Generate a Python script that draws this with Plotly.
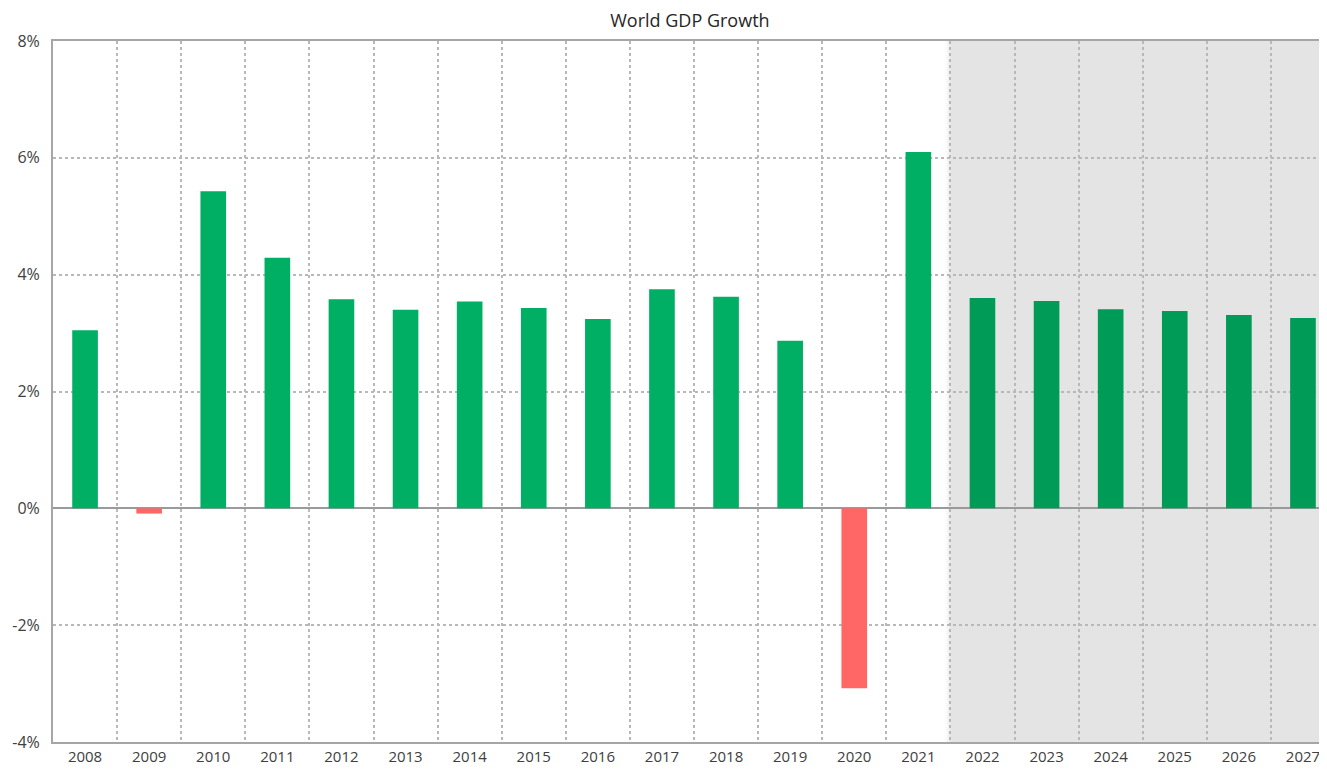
import plotly.graph_objects as go

years = [str(y) for y in range(2008, 2028)]
growth = [3.05, -0.09, 5.43, 4.29, 3.58, 3.40, 3.54, 3.43, 3.24, 3.75,
          3.62, 2.87, -3.08, 6.10, 3.60, 3.55, 3.41, 3.38, 3.31, 3.26]
forecast_start = "2022"
y_ticks = [-4, -2, 0, 2, 4, 6, 8]
y_labels = [f"{v}%" for v in y_ticks]

POS = "#00AF64"
POS_F = "#009B57"
NEG = "#FF6666"

fi = years.index(forecast_start)
colors = []
for i, v in enumerate(growth):
    if v < 0:
        colors.append(NEG)
    elif i >= fi:
        colors.append(POS_F)
    else:
        colors.append(POS)

fig = go.Figure()
fig.add_trace(go.Bar(
    x=list(range(len(years))), y=growth, width=0.4,
    marker=dict(color=colors, line=dict(width=0)),
    hovertemplate="%{y:.2f}%<extra></extra>",
))

# forecast shading with soft shadow edge
fig.add_shape(type="rect", xref="x", yref="paper", x0=fi - 0.5, x1=len(years) - 0.5,
              y0=0, y1=1, fillcolor="#E4E4E4", line=dict(width=0), layer="below")
for k, op in enumerate([0.10, 0.07, 0.04]):
    fig.add_shape(type="rect", xref="x", yref="paper",
                  x0=fi - 0.5 - (k + 1) * 0.03, x1=fi - 0.5, y0=0, y1=1,
                  fillcolor=f"rgba(0,0,0,{op/3})", line=dict(width=0), layer="below")

fig.update_layout(
    width=1319, height=764,
    margin=dict(l=45, r=0, t=33, b=30, autoexpand=False),
    paper_bgcolor="white", plot_bgcolor="white",
    showlegend=False,
    bargap=0.6,
    title=dict(text="World GDP Growth", x=0.517, xanchor="center", y=1 - 13 / 764, yanchor="middle",
               font=dict(family="Open Sans, sans-serif", size=18, color="#262626")),
    font=dict(family="Open Sans, sans-serif", size=15, color="#404040"),
)
fig.update_xaxes(
    range=[-0.5, len(years) - 1 + 0.375],
    tickmode="array", tickvals=list(range(len(years))), ticktext=years,
    showgrid=False, zeroline=False,
    showline=True, linecolor="#A6A6A6", linewidth=2, mirror=True,
    ticks="", tickfont=dict(size=15, color="#404040"),
    minor=dict(tickmode="array", tickvals=[i + 0.5 for i in range(len(years) - 1)],
               showgrid=True, gridcolor="#B8B8B8", griddash="dot", gridwidth=2, ticks=""),
    fixedrange=True,
)
fig.update_yaxes(
    range=[-4, 8], tickmode="array", tickvals=y_ticks, ticktext=y_labels,
    showgrid=True, gridcolor="#B8B8B8", griddash="dot", gridwidth=1.5,
    zeroline=True, zerolinecolor="#9A9A9A", zerolinewidth=2,
    showline=True, linecolor="#A6A6A6", linewidth=2,
    ticks="", ticklabelstandoff=8, tickfont=dict(size=16, color="#404040"),
    fixedrange=True,
)

fig.write_html("out.html")
